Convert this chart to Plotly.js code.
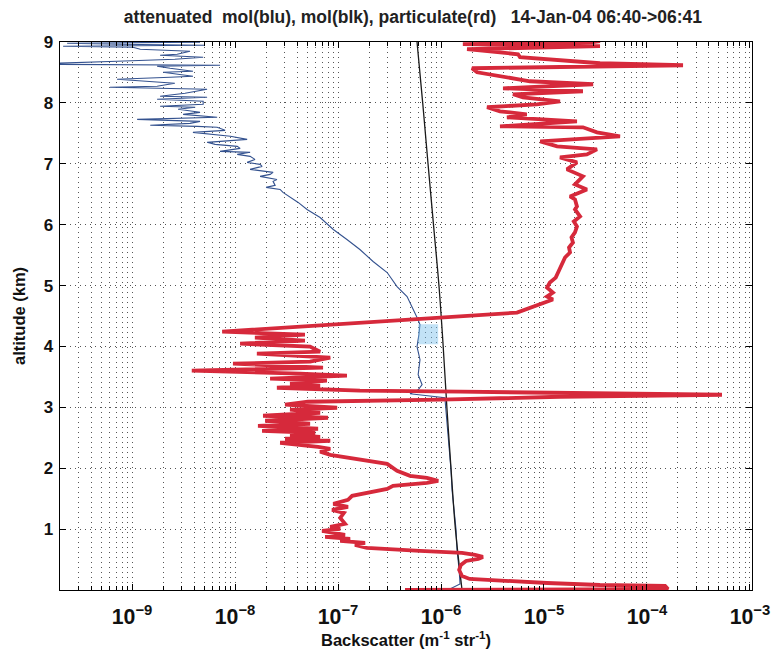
<!DOCTYPE html>
<html>
<head>
<meta charset="utf-8">
<script src="https://cdn.plot.ly/plotly-3.0.1.min.js"></script>
<style>html,body{margin:0;padding:0;background:#fff;}#chart{width:771px;height:651px;}</style>
</head>
<body>
<div id="chart"></div>
<script>
// Particulate backscatter (red): altitude (km) and value (m^-1 str^-1)
const redAlt = [0.000,0.016,0.066,0.082,0.115,0.148,0.181,0.230,0.329,0.411,0.477,0.510,0.543,0.576,0.609,0.641,0.691,0.740,0.773,0.806,0.839,0.872,0.905,0.970,1.003,1.036,1.086,1.184,1.266,1.316,1.365,1.414,1.480,1.546,1.661,1.711,1.760,1.793,1.842,1.875,1.957,2.072,2.105,2.220,2.270,2.319,2.352,2.385,2.418,2.451,2.484,2.516,2.549,2.582,2.615,2.648,2.697,2.730,2.780,
  2.829,2.862,2.911,2.961,2.993,3.043,3.092,3.125,3.174,3.207,3.257,3.273,3.322,3.355,3.388,3.438,3.470,3.520,3.553,3.602,3.651,3.717,3.750,3.816,3.882,3.914,3.997,4.046,4.095,4.145,4.194,4.227,4.243,
  4.556,4.622,4.770,4.819,4.885,4.967,5.049,5.131,5.214,5.296,5.378,5.461,5.543,5.625,5.707,5.790,5.872,5.970,6.053,6.135,6.250,6.299,6.414,6.464,6.579,6.661,6.793,6.908,7.023,7.105,7.155,7.237,7.286,7.368,7.451,7.516,7.599,7.615,7.697,7.763,7.812,7.862,7.928,7.977,8.026,8.092,8.141,8.191,8.240,8.306,8.355,8.421,8.503,8.569,8.618,8.651,8.701,8.750,8.799,8.882,8.931,8.964,8.997,9.013];
const redVal = [4.47e-7,1.6e-4,1.5e-4,3.5e-5,1.07e-5,3.74e-6,1.9e-6,1.6e-6,1.5e-6,1.56e-6,1.75e-6,2.3e-6,2.55e-6,2.14e-6,1.6e-6,6.25e-7,1.91e-7,1.46e-7,1.83e-7,1.05e-7,1.31e-7,7.5e-8,1.17e-7,7.0e-8,1.05e-7,8.4e-8,1.17e-7,1.05e-7,1.14e-7,8.75e-8,1.25e-7,9.0e-8,1.25e-7,1.37e-7,3.0e-7,3.42e-7,7.3e-7,9.4e-7,7.3e-7,5.0e-7,3.74e-7,3.0e-7,2.19e-7,8.4e-8,6.7e-8,8.4e-8,6.4e-8,4.27e-8,2.74e-8,8.4e-8,3.06e-8,6.7e-8,3.42e-8,6.0e-8,1.83e-8,6.4e-8,1.67e-8,5.35e-8,1.96e-8,
  8.0e-8,1.87e-8,6.7e-8,3.42e-8,9.8e-8,3.06e-8,5.1e-8,9.8e-7,1.43e-5,5.35e-4,1.53e-6,1.63e-7,2.55e-8,6.7e-8,3.42e-8,7.8e-8,2.19e-8,1.22e-7,4.27e-8,3.8e-9,7.15e-8,9.55e-9,5.35e-8,8.4e-8,1.63e-8,6.7e-8,5.35e-8,1.12e-8,4.77e-8,1.56e-8,4.77e-8,8.0e-9,7.5e-9,
  5.47e-6,7.0e-6,1.22e-5,1.07e-5,1.22e-5,1.07e-5,1.14e-5,1.3e-5,1.37e-5,1.45e-5,1.53e-5,1.6e-5,1.79e-5,1.75e-5,1.91e-5,1.85e-5,2.0e-5,2.09e-5,1.95e-5,2.24e-5,2.0e-5,2.09e-5,2.0e-5,1.79e-5,2.61e-5,2.0e-5,2.39e-5,1.67e-5,2.09e-5,1.43e-5,2.61e-5,3.27e-5,1.34e-5,9.2e-6,5.47e-5,3.27e-5,2.39e-5,3.74e-6,2.09e-5,4.37e-6,6.8e-6,3.74e-6,2.8e-6,8.5e-6,1.43e-5,6.25e-6,5.0e-6,2.39e-5,4.0e-6,3.0e-5,7.3e-6,4.18e-6,2.24e-6,2.0e-6,2.24e-4,3.5e-5,1.22e-5,5.85e-6,5.6e-6,1.79e-6,3.5e-5,1.63e-6,3.0e-5,3.5e-5];

// Attenuated molecular backscatter (blue)
const blueAlt = [0.016,0.099,0.329,0.658,0.987,1.316,1.645,1.974,2.303,2.632,2.961,3.158,3.224,3.289,3.372,3.536,3.783,3.997,4.194,4.359,4.474,4.605,4.819,4.984,5.214,5.395,5.592,5.757,5.921,6.118,6.250,6.365,6.447,6.530,6.579,6.612,6.645,6.711,6.743,6.793,6.826,6.859,6.908,6.957,6.990,7.023,7.072,7.122,7.155,7.188,7.204,7.253,7.286,7.319,7.352,7.385,7.401,7.451,7.484,7.516,7.549,7.599,7.615,7.632,7.664,7.697,7.730,7.747,7.763,7.812,7.845,7.895,7.928,7.944,7.977,8.026,8.059,8.092,8.109,8.158,8.224,8.257,8.273,8.322,8.388,8.421,8.438,8.503,8.520,8.569,8.602,8.618,8.635,8.684,8.717,8.750,8.783,8.799,8.849,8.882,8.914,8.931,8.947,8.964,8.980,8.997,9.013];
const blueVal = [1.22e-6,1.53e-6,1.5e-6,1.43e-6,1.4e-6,1.34e-6,1.28e-6,1.25e-6,1.2e-6,1.17e-6,1.12e-6,1.09e-6,5.0e-7,6.0e-7,6.55e-7,6.0e-7,6.25e-7,5.85e-7,6.1e-7,6.25e-7,5.85e-7,5.35e-7,4.68e-7,3.74e-7,3.0e-7,2.19e-7,1.63e-7,1.22e-7,9.0e-8,6.7e-8,5.0e-8,4.1e-8,3.42e-8,2.92e-8,2.74e-8,2.0e-8,2.45e-8,2.34e-8,2.55e-8,1.75e-8,2.19e-8,2.34e-8,1.4e-8,1.83e-8,1.75e-8,1.31e-8,1.56e-8,1.4e-8,1.05e-8,1.4e-8,7.15e-9,1.12e-8,1.05e-8,6.4e-9,5.35e-9,9.0e-9,1.31e-8,9.0e-9,5.7e-9,3.9e-9,8.0e-9,6.7e-9,4.27e-9,1.5e-9,3.65e-9,4.57e-9,1.12e-9,2.92e-9,6.7e-9,3.13e-9,4.57e-9,2.8e-9,4.1e-9,1.87e-9,4.9e-9,4.9e-9,1.75e-9,5.35e-9,1.87e-9,3.27e-9,5.35e-9,6.1e-10,1.75e-9,2.6e-9,7.15e-10,2.34e-9,3.9e-9,2.0e-9,3.9e-9,2.34e-9,1.75e-9,7.15e-9,1.0e-10,7.15e-10,2.6e-9,4.9e-9,1.87e-9,2.74e-9,3.65e-9,1.2e-9,1.02e-9,2.14e-10,5.1e-9,7.6e-10,2.34e-10,4.57e-9,3.9e-10];

// Molecular backscatter (black)
const blackAlt = [0,1,2,3,4,5,6,7,8,9];
const blackVal = [1.6e-6,1.38e-6,1.25e-6,1.14e-6,1.05e-6,9.55e-7,8.45e-7,7.48e-7,6.64e-7,5.85e-7];

// light-blue smudge on the print
const smudgeAlt = [4.2];
const smudgeVal = [7.5e-7];

const titleText = 'attenuated  mol(blu), mol(blk), particulate(rd)   14-Jan-04 06:40->06:41';
const xTitle = 'Backscatter (m<sup>-1</sup> str<sup>-1</sup>)';
const yTitle = 'altitude (km)';
const yTicks = [1,2,3,4,5,6,7,8,9];

const FONT = 'Liberation Sans, Arial, sans-serif';
const gridCol = '#555';
const gridDash = '1px,4px';

const traces = [
  {x: blueVal, y: blueAlt, type: 'scatter', mode: 'lines', line: {color: '#34528f', width: 1.1}, hoverinfo: 'skip'},
  {x: blackVal, y: blackAlt, type: 'scatter', mode: 'lines', line: {color: '#1a1a1a', width: 1.3, shape: 'spline'}, hoverinfo: 'skip'},
  {x: redVal, y: redAlt, type: 'scatter', mode: 'lines', line: {color: '#d6293b', width: 3.8}, hoverinfo: 'skip'},
  {x: smudgeVal, y: smudgeAlt, type: 'scatter', mode: 'markers', marker: {color: 'rgba(120,190,235,0.45)', size: 20, symbol: 'square', line: {width: 0}}, hoverinfo: 'skip'}
];

const layout = {
  width: 771, height: 651,
  margin: {l: 60, r: 19, t: 42, b: 61},
  paper_bgcolor: '#fff', plot_bgcolor: '#fff',
  showlegend: false,
  font: {family: FONT, color: '#111'},
  title: {text: titleText, font: {family: FONT, size: 17.5, color: '#222', weight: 'bold'}, x: 0.51, xref: 'paper', y: 0.974, yref: 'container', yanchor: 'middle'},
  xaxis: {
    type: 'log', range: [-9.70, -2.98],
    dtick: 1, exponentformat: 'power',
    ticks: 'inside', ticklen: 6, tickcolor: '#000',
    ticklabelstandoff: 8,
    showline: true, linecolor: '#000', linewidth: 1.3, mirror: 'allticks',
    showgrid: true, gridcolor: gridCol, griddash: gridDash, gridwidth: 1,
    zeroline: false,
    tickfont: {family: FONT, size: 17, color: '#111', weight: 'bold'},
    minor: {dtick: 'D1', ticks: 'inside', ticklen: 4, tickcolor: '#000', showgrid: true, gridcolor: gridCol, griddash: gridDash, gridwidth: 1},
    title: {text: xTitle, font: {family: FONT, size: 16.5, color: '#111', weight: 'bold'}, standoff: 2}
  },
  yaxis: {
    range: [0, 9], tickvals: yTicks,
    ticks: 'inside', ticklen: 6, tickcolor: '#000',
    ticklabelstandoff: 2,
    showline: true, linecolor: '#000', linewidth: 1.3, mirror: 'allticks',
    showgrid: true, gridcolor: gridCol, griddash: gridDash, gridwidth: 1,
    zeroline: false,
    tickfont: {family: FONT, size: 17, color: '#111', weight: 'bold'},
    title: {text: yTitle, font: {family: FONT, size: 16.5, color: '#111', weight: 'bold'}, standoff: 14}
  }
};

Plotly.newPlot('chart', traces, layout, {staticPlot: true, displayModeBar: false});
</script>
</body>
</html>
